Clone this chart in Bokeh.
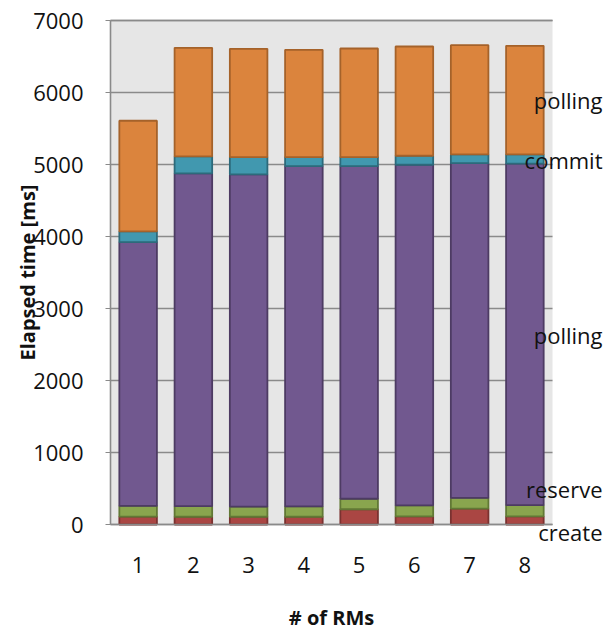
import numpy as np
from bokeh.plotting import figure
from bokeh.models import Label, FixedTicker, Range1d, BoxAnnotation, LinearAxis
from bokeh.embed import file_html
from bokeh.resources import INLINE

# Elapsed time per phase (ms) for 1..8 resource managers
rms = [1, 2, 3, 4, 5, 6, 7, 8]
create = [110, 108, 108, 108, 212, 113, 222, 113]
reserve = [148, 147, 140, 144, 146, 153, 148, 157]
polling_reserve = [3665, 4622, 4615, 4726, 4620, 4731, 4649, 4741]
commit = [148, 235, 240, 125, 125, 125, 121, 129]
polling_commit = [1537, 1509, 1504, 1490, 1508, 1517, 1517, 1509]

series_names = ["create", "reserve", "polling", "commit", "polling"]
fill_colors = ["#AA4643", "#89A54E", "#71588F", "#4198AF", "#DB843D"]
edge_colors = ["#7A3230", "#617835", "#4D3B63", "#2C6A7B", "#A5622A"]
# vertical placement (ms) of the series names at the right edge
name_y = [-110, 500, 2630, 5060, 5890]

y_ticks = [0, 1000, 2000, 3000, 4000, 5000, 6000, 7000]
FONT = "Open Sans"
TEXT = "#111111"
RULE = "#8a8a8a"

# The frame fills the whole canvas; axes sit at fixed data locations so the
# series names and titles around the bars stay inside the drawable area.
p = figure(width=604, height=630, output_backend="svg", toolbar_location=None,
           x_range=Range1d(-1.491, 9.441), y_range=Range1d(-1472, 7278),
           min_border=0)
p.background_fill_color = "white"
p.border_fill_color = "white"
p.outline_line_color = None

# grey plot area
p.add_layout(BoxAnnotation(left=0.5, right=8.5, bottom=0, top=7000,
                           fill_color="#E6E6E6", fill_alpha=1.0,
                           line_color=None, level="image"))

stack = [create, reserve, polling_reserve, commit, polling_commit]
bottom = np.zeros(len(rms))
for vals, fc, ec in zip(stack, fill_colors, edge_colors):
    top = bottom + np.array(vals)
    p.vbar(x=rms, bottom=bottom, top=top, width=0.68,
           fill_color=fc, line_color=ec, line_width=1.8)
    bottom = top

p.xgrid.grid_line_color = None
p.ygrid.grid_line_color = RULE
p.ygrid.grid_line_width = 1.4
p.ygrid.bounds = (0, 7000)
p.ygrid.cross_bounds = (0.5, 8.5)

p.yaxis.ticker = FixedTicker(ticks=y_ticks)
p.xaxis.ticker = FixedTicker(ticks=rms)
p.yaxis.fixed_location = 0.5
p.xaxis.fixed_location = 0
p.yaxis.bounds = (0, 7000)
p.xaxis.bounds = (0.5, 8.5)
for ax in (p.xaxis, p.yaxis):
    ax.axis_line_color = RULE
    ax.axis_line_width = 1.6
    ax.major_label_text_font = FONT
    ax.major_label_text_font_size = "22px"
    ax.major_label_text_color = TEXT
    ax.minor_tick_line_color = None
    ax.major_tick_in = 0
p.yaxis.major_tick_out = 5
p.yaxis.major_tick_line_color = RULE
p.yaxis.major_label_standoff = 22
p.xaxis.major_tick_out = 0
p.xaxis.major_tick_line_color = None
p.xaxis.major_label_standoff = 32

# top edge of the plot area
top_rule = LinearAxis(fixed_location=7000, bounds=(0.5, 8.5),
                      ticker=FixedTicker(ticks=[]), axis_line_color=RULE,
                      axis_line_width=1.6, major_tick_line_color=None,
                      minor_tick_line_color=None, major_label_text_font_size="0px")
p.add_layout(top_rule, "above")

# series names listed beside the last bar
for name, yv in zip(series_names, name_y):
    p.add_layout(Label(x=9.405, y=yv, text=name, text_align="right",
                       text_baseline="middle", text_font=FONT,
                       text_font_size="22px", text_color=TEXT, level="overlay"))

# axis titles
p.add_layout(Label(x=-1.0, y=3500, text="Elapsed time [ms]", angle=np.pi / 2,
                   text_align="center", text_baseline="middle", text_font=FONT,
                   text_font_style="bold", text_font_size="20px", text_color=TEXT,
                   level="overlay"))
p.add_layout(Label(x=4.5, y=-1292, text="# of RMs", text_align="center",
                   text_baseline="middle", text_font=FONT, text_font_style="bold",
                   text_font_size="20px", text_color=TEXT, level="overlay"))

open("out.html", "w").write(file_html(p, INLINE))
